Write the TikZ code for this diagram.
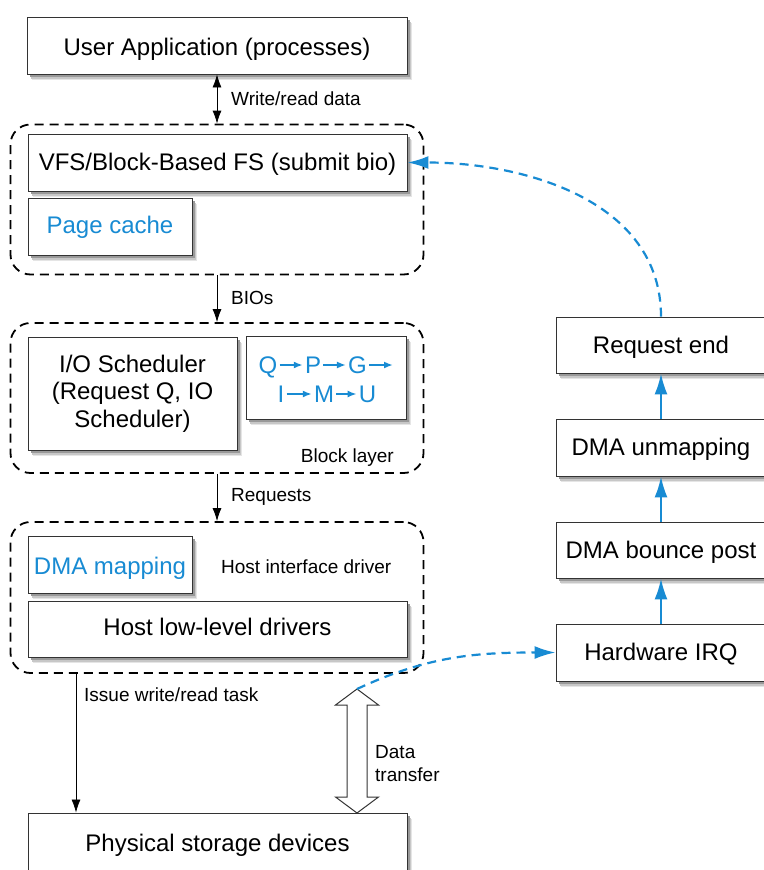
\documentclass[tikz,border=0pt]{standalone}
\usepackage{fontspec}
\setmainfont{Liberation Sans}
\usetikzlibrary{arrows.meta}
\usetikzlibrary{positioning, backgrounds}
\usepackage{xcolor}
\definecolor{myblue}{RGB}{24,139,211}
\colorlet{mygray}{black!80}
\colorlet{shade1}{black!10}
\colorlet{shade2}{black!22}
\colorlet{shade3}{black!40}
\newcommand{\bigfont}{\fontsize{24}{27.5}\selectfont}
\newcommand{\smallfont}{\fontsize{19}{23}\selectfont}
\tikzset{
  >={Latex[length=13pt,width=9pt]},
  boxbase/.style={draw=mygray, fill=white, line width=0.9pt, inner sep=0, align=center, font=\bigfont,
    preaction={fill=shade1, draw=none, transform canvas={shift={(5pt,-6pt)}}},
    preaction={fill=shade2, draw=none, transform canvas={shift={(4pt,-4.5pt)}}},
    preaction={fill=shade3, draw=none, transform canvas={shift={(2.5pt,-3pt)}}}},
  box/.style={boxbase, text height=18pt, text depth=2pt},
  group/.style={draw=black, dash pattern=on 9pt off 6pt, line width=1.8pt, rounded corners=20pt, inner sep=0},
  connect/.style={line width=0.8pt, black},
  hollow/.style={draw=mygray, fill=white, line width=1pt, line join=miter},
  back/.style={myblue, line width=2.2pt, -{Latex[length=21pt,width=13pt]}},
  back dashed/.style={back, dash pattern=on 9pt off 6pt},
  seq/.style={myblue, font=\bigfont, inner sep=0, text height=17pt, text depth=0pt},
  seq arrow/.style={myblue, line width=1.8pt, -{Latex[length=9pt,width=7pt]}, shorten <=2pt, shorten >=2pt},
  note/.style={font=\smallfont, inner sep=0}
}

\begin{document}
\begin{tikzpicture}[x=1pt,y=-1pt]
  \useasboundingbox[fill=white] (0,0) rectangle (763,870);

  % --- GROUPS ---
  \node[group, minimum width=413, minimum height=150] (fs-grp) at (217,199.5) {};
  \node[group, minimum width=413, minimum height=150] (blk-grp) at (217,398) {};
  \node[group, minimum width=413, minimum height=151] (drv-grp) at (217,597.5) {};

  % --- LEFT STACK ---
  \node[box, minimum width=380, minimum height=57, text height=22pt] (app) at (217,45.5) {User Application (processes)};
  \node[box, minimum width=379, minimum height=57, text height=17pt] (vfs) at (217.5,162.5) {VFS/Block-Based FS (submit bio)};
  \node[box, minimum width=164, minimum height=57, text height=16pt, text=myblue] (cache) at (110,226.5) {Page cache};

  \node[boxbase, minimum width=209, minimum height=113] (sched) at (132.5,393.5) {I/O Scheduler\\(Request Q, IO\\Scheduler)};
  \node[boxbase, minimum width=160, minimum height=83] (qpg) at (326,377.5) {};
  \node[note, anchor=east] at (394,458) {Block layer};

  % Q -> P -> G -> I -> M -> U
  \node[seq] (q) at (268,365) {Q};
  \node[seq] (p) at (313,365) {P};
  \node[seq] (g) at (357.5,365) {G};
  \coordinate (g-end) at (393,365);
  \node[seq] (i) at (281,394) {I};
  \node[seq] (m) at (324,394) {M};
  \node[seq] (u) at (367.5,394) {U};
  \foreach \a/\b in {q/p, p/g, i/m, m/u} \draw[seq arrow] (\a) -- (\b);
  \draw[seq arrow, shorten >=0pt] (g) -- (g-end);

  \node[box, minimum width=164, minimum height=57, text height=21pt, text=myblue] (dmamap) at (110,564.5) {DMA mapping};
  \node[note, anchor=west] at (221,567) {Host interface driver};
  \node[box, minimum width=379, minimum height=56, text height=14pt] (lowlvl) at (217.5,629) {Host low-level drivers};

  \node[box, minimum width=379, minimum height=57, text height=22pt] (phys) at (217.5,841.5) {Physical storage devices};

  % --- RIGHT STACK (completion path) ---
  \node[box, minimum width=210, minimum height=56] (reqend) at (661,345) {Request end};
  \node[box, minimum width=210, minimum height=57] (unmap) at (661,447.5) {DMA unmapping};
  \node[box, minimum width=210, minimum height=56] (bounce) at (661,550) {DMA bounce post};
  \node[box, minimum width=210, minimum height=57] (irq) at (661,652.5) {Hardware IRQ};

  % --- CONNECTIONS ---
  \draw[connect, <->] (app) -- (fs-grp);
  \node[note, anchor=west] at (231,99) {Write/read data};
  \draw[connect, ->] (fs-grp) -- (blk-grp);
  \node[note, anchor=west] at (231,298) {BIOs};
  \draw[connect, ->] (blk-grp) -- (drv-grp);
  \node[note, anchor=west] at (231,497) {Requests};
  \draw[connect, ->] ([xshift=-141pt]drv-grp.south) -- ([xshift=-141.5pt]phys.north);
  \node[note, anchor=west] at (84,695) {Issue write/read task};

  % data transfer (hollow double arrow)
  \coordinate (dtop) at (357,689);
  \coordinate (dbot) at (357,813);
  \draw[hollow] (dtop) -- ++(21.5,16) -- ++(-11.5,0) -- ++(0,92) -- ++(11.5,0) -- (dbot)
    -- ++(-21.5,-16) -- ++(11.5,0) -- ++(0,-92) -- ++(-11.5,0) -- cycle;
  \node[note, anchor=west, align=left] at (375,763.5) {Data\\transfer};

  \foreach \a/\b in {irq/bounce, bounce/unmap, unmap/reqend} \draw[back] (\a) -- (\b);
  \draw[back dashed] (dtop) to[out=25, in=180] (irq.west);
  \draw[back dashed] (reqend.north) to[out=90, in=0] (vfs.east);

\end{tikzpicture}
\end{document}
